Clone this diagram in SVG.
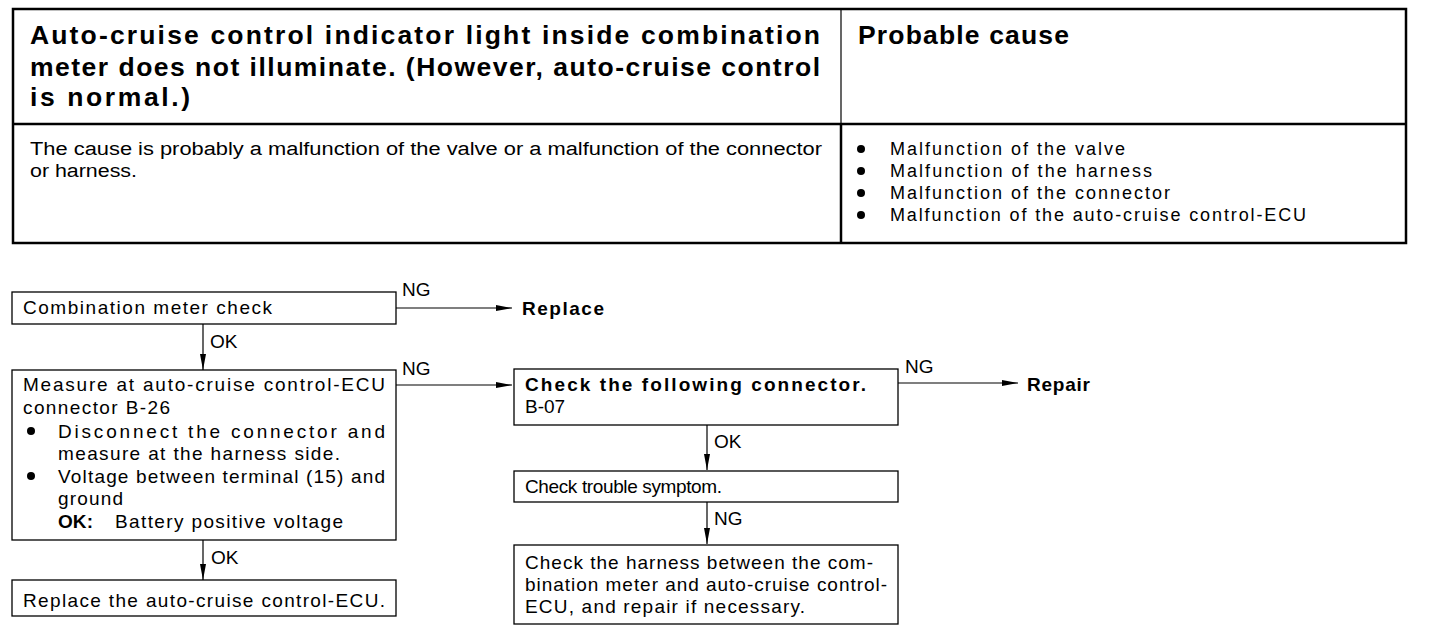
<svg xmlns="http://www.w3.org/2000/svg" width="1440" height="638" viewBox="0 0 1440 638">
<style>
text{font-family:"Liberation Sans",Arial,sans-serif;fill:#000}
.h{font-size:26.5px;font-weight:bold}
.b{font-size:18px}
.f{font-size:19px}
.fb{font-size:19px;font-weight:bold}
.box{fill:#fff;stroke:#000;stroke-width:1.3}
.tb{fill:none;stroke:#000;stroke-width:2.5}
.ln{fill:none;stroke:#000;stroke-width:1.2}
</style>
<defs>
<marker id="ah" viewBox="0 0 16 8" refX="16" refY="4" markerWidth="16" markerHeight="8" markerUnits="userSpaceOnUse" orient="auto">
<path d="M0,1 L16,4 L0,7 Z" fill="#000"/>
</marker>
</defs>
<rect width="1440" height="638" fill="#fff"/>
<g id="table">
<rect class="tb" x="13" y="9" width="1393" height="234"/>
<line class="tb" x1="13" y1="124" x2="1406" y2="124"/>
<line class="ln" x1="841" y1="9" x2="841" y2="124"/>
<line class="tb" x1="841" y1="124" x2="841" y2="243"/>
<text class="h" x="30" y="44" textLength="790" lengthAdjust="spacing">Auto-cruise control indicator light inside combination</text>
<text class="h" x="30" y="76" textLength="790" lengthAdjust="spacing">meter does not illuminate. (However, auto-cruise control</text>
<text class="h" x="30" y="106" textLength="160" lengthAdjust="spacing">is normal.)</text>
<text class="h" x="858" y="44" textLength="211" lengthAdjust="spacing">Probable cause</text>
<text class="b" x="30" y="155" textLength="792" lengthAdjust="spacingAndGlyphs">The cause is probably a malfunction of the valve or a malfunction of the connector</text>
<text class="b" x="30" y="177" textLength="107" lengthAdjust="spacingAndGlyphs">or harness.</text>
<circle cx="861" cy="149" r="4"/>
<circle cx="861" cy="171" r="4"/>
<circle cx="861" cy="193" r="4"/>
<circle cx="861" cy="215" r="4"/>
<text class="b" x="890" y="155" textLength="235" lengthAdjust="spacing">Malfunction of the valve</text>
<text class="b" x="890" y="177" textLength="262" lengthAdjust="spacing">Malfunction of the harness</text>
<text class="b" x="890" y="199" textLength="280" lengthAdjust="spacing">Malfunction of the connector</text>
<text class="b" x="890" y="221" textLength="416" lengthAdjust="spacing">Malfunction of the auto-cruise control-ECU</text>
</g>
<g id="connectors">
<line class="ln" x1="396" y1="308" x2="512" y2="308" marker-end="url(#ah)"/>
<line class="ln" x1="203" y1="324" x2="203" y2="370" marker-end="url(#ah)"/>
<line class="ln" x1="396" y1="385" x2="512" y2="385" marker-end="url(#ah)"/>
<line class="ln" x1="203" y1="540" x2="203" y2="580" marker-end="url(#ah)"/>
<line class="ln" x1="898" y1="383" x2="1018" y2="383" marker-end="url(#ah)"/>
<line class="ln" x1="707" y1="425" x2="707" y2="470" marker-end="url(#ah)"/>
<line class="ln" x1="707" y1="502" x2="707" y2="544" marker-end="url(#ah)"/>
<text class="f" x="402" y="296">NG</text>
<text class="f" x="210" y="348">OK</text>
<text class="f" x="402" y="375">NG</text>
<text class="f" x="211" y="564">OK</text>
<text class="f" x="905" y="373">NG</text>
<text class="f" x="714" y="448">OK</text>
<text class="f" x="714" y="525">NG</text>
</g>
<g id="n-combination">
<rect class="box" x="12" y="292" width="384" height="32"/>
<text class="f" x="23" y="314" textLength="249" lengthAdjust="spacing">Combination meter check</text>
</g>
<g id="n-replace1">
<text class="fb" x="522" y="315" textLength="82" lengthAdjust="spacing">Replace</text>
</g>
<g id="n-measure">
<rect class="box" x="12" y="370" width="384" height="170"/>
<text class="f" x="23" y="391" textLength="362" lengthAdjust="spacing">Measure at auto-cruise control-ECU</text>
<text class="f" x="23" y="414" textLength="147" lengthAdjust="spacing">connector B-26</text>
<circle cx="31" cy="431" r="4"/>
<text class="f" x="58" y="438" textLength="327" lengthAdjust="spacing">Disconnect the connector and</text>
<text class="f" x="58" y="460" textLength="282" lengthAdjust="spacing">measure at the harness side.</text>
<circle cx="31" cy="476" r="4"/>
<text class="f" x="58" y="483" textLength="327" lengthAdjust="spacing">Voltage between terminal (15) and</text>
<text class="f" x="58" y="505" textLength="65" lengthAdjust="spacing">ground</text>
<text class="fb" x="58" y="528" textLength="35" lengthAdjust="spacing">OK:</text>
<text class="f" x="115" y="528" textLength="228" lengthAdjust="spacing">Battery positive voltage</text>
</g>
<g id="n-replace-ecu">
<rect class="box" x="12" y="580" width="384" height="36"/>
<text class="f" x="23" y="607" textLength="362" lengthAdjust="spacing">Replace the auto-cruise control-ECU.</text>
</g>
<g id="n-check-connector">
<rect class="box" x="514" y="369" width="384" height="56"/>
<text class="fb" x="525" y="391" textLength="341" lengthAdjust="spacing">Check the following connector.</text>
<text class="f" x="525" y="413">B-07</text>
</g>
<g id="n-repair">
<text class="fb" x="1027" y="391" textLength="63" lengthAdjust="spacing">Repair</text>
</g>
<g id="n-trouble">
<rect class="box" x="514" y="471" width="384" height="31"/>
<text class="f" x="525" y="493" textLength="197" lengthAdjust="spacing">Check trouble symptom.</text>
</g>
<g id="n-harness">
<rect class="box" x="514" y="545" width="384" height="79"/>
<text class="f" x="525" y="569" textLength="348" lengthAdjust="spacing">Check the harness between the com-</text>
<text class="f" x="525" y="591" textLength="362" lengthAdjust="spacing">bination meter and auto-cruise control-</text>
<text class="f" x="525" y="613" textLength="280" lengthAdjust="spacing">ECU, and repair if necessary.</text>
</g>
</svg>
